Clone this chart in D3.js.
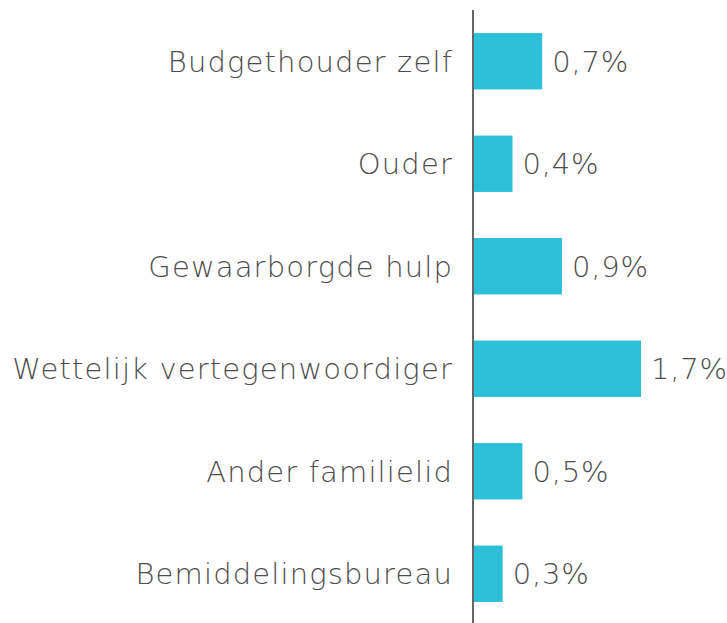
<!DOCTYPE html>
<html>
<head>
<meta charset="utf-8">
<script src="https://cdn.jsdelivr.net/npm/d3@7"></script>
<style>
  body { margin: 0; background: #fff; }
  svg text { font-family: "DejaVu Sans", sans-serif; font-weight: 200; fill: #4d4d4d; letter-spacing: 1.15px; }
</style>
</head>
<body>
<div id="chart"></div>
<script>
var categories = ["Budgethouder zelf", "Ouder", "Gewaarborgde hulp", "Wettelijk vertegenwoordiger", "Ander familielid", "Bemiddelingsbureau"];
var values = [0.7, 0.4, 0.9, 1.7, 0.5, 0.3];
var valueLabels = ["0,7%", "0,4%", "0,9%", "1,7%", "0,5%", "0,3%"];

var width = 727, height = 623;
var axisX = 473;

var data = [];
for (var i = 0; i < categories.length; i++) {
  data.push({ name: categories[i], value: values[i], label: valueLabels[i] });
}

var svg = d3.select("#chart").append("svg")
    .attr("width", width)
    .attr("height", height);

var y = d3.scaleBand()
    .domain(categories)
    .range([10, 625])
    .paddingInner(0.45)
    .paddingOuter(0.225);

var x = d3.scaleLinear()
    .domain([0, 1.7])
    .range([axisX, axisX + 168]);

svg.selectAll(".bar")
    .data(data)
    .enter().append("rect")
    .attr("class", "bar")
    .attr("x", x(0))
    .attr("y", function(d) { return y(d.name); })
    .attr("width", function(d) { return x(d.value) - x(0); })
    .attr("height", y.bandwidth())
    .style("fill", "#2bbfd8");

svg.selectAll(".val")
    .data(data)
    .enter().append("text")
    .attr("class", "val")
    .attr("x", function(d) { return x(d.value) + 10; })
    .attr("y", function(d) { return y(d.name) + y.bandwidth() / 2; })
    .attr("dy", "0.36em")
    .style("font-size", "29px")
    .style("letter-spacing", "0.8px")
    .text(function(d) { return d.label; });

// category axis, just labels and the line
var yAxis = d3.axisLeft(y).tickSize(0).tickPadding(20);
var g = svg.append("g")
    .attr("transform", "translate(" + axisX + ",0)")
    .call(yAxis);
g.select(".domain").remove();
g.selectAll(".tick text")
    .attr("dy", "0.36em")
    .style("font-size", "29px")
    .style("font-family", "'DejaVu Sans', sans-serif")
    .attr("fill", "#4d4d4d");

svg.append("line")
    .attr("x1", axisX).attr("x2", axisX)
    .attr("y1", 10).attr("y2", height)
    .attr("stroke", "#666")
    .attr("stroke-width", 2);
</script>
</body>
</html>
